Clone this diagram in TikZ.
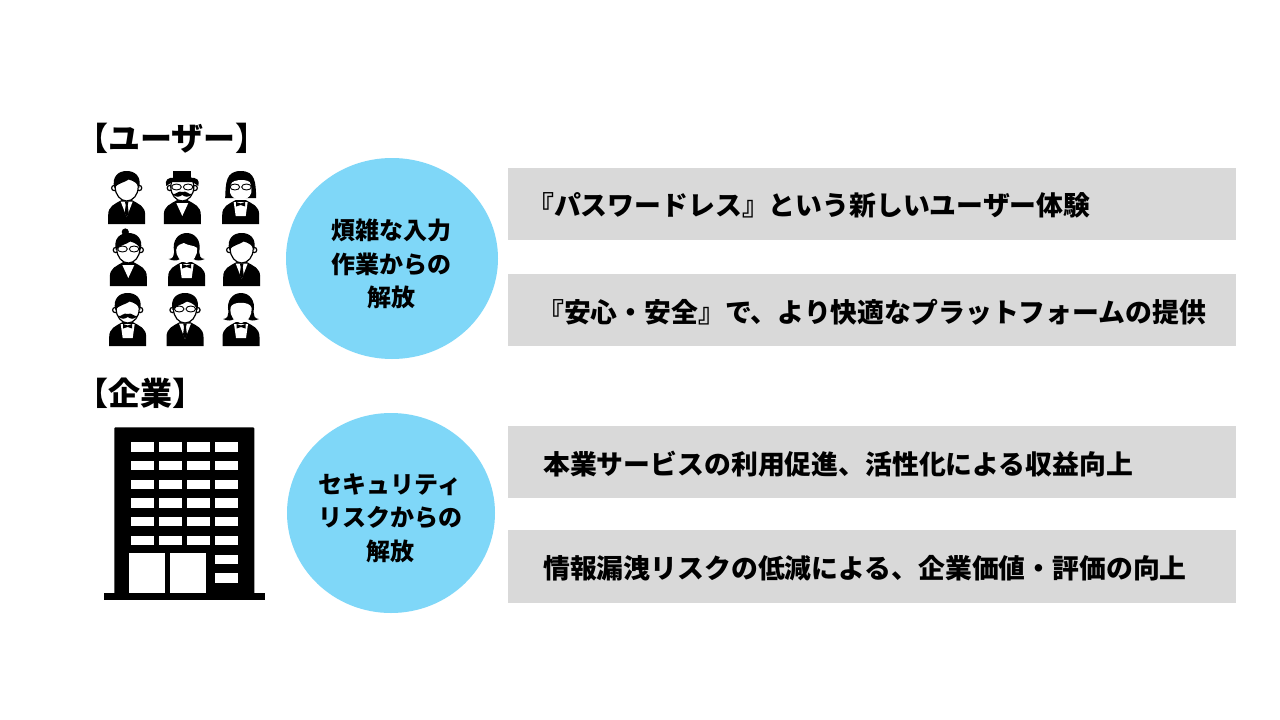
\documentclass[tikz,border=0pt]{standalone}
\usepackage{fontspec}
\newfontfamily\jp{Noto Sans CJK JP}
\usetikzlibrary{shapes.geometric}
\definecolor{barc}{HTML}{D9D9D9}
\definecolor{circc}{HTML}{7FD7F8}
\tikzset{
  barbox/.style={fill=barc,draw=none,minimum width=728pt,inner sep=0pt,anchor=north west},
  bartext/.style={anchor=west,inner sep=0pt,font=\jp\bfseries\fontsize{26.85}{30}\selectfont,text=black},
  headtext/.style={anchor=west,inner sep=0pt,font=\jp\bfseries\fontsize{32}{36}\selectfont,text=black},
  circbox/.style={ellipse,fill=circc,draw=none,inner sep=0pt},
  circtext/.style={align=center,inner sep=0pt,font=\jp\bfseries\fontsize{24}{33.5}\selectfont,text=black},
  win/.style={fill=white,draw=none},
}
% person parts, local px coordinates about the head centre
\newcommand{\pBody}{%
  \fill (-18.5,36) -- (-18.5,27) .. controls (-18.5,18) and (-12,16) .. (-5,12) -- (5,12) .. controls (12,16) and (18.5,18) .. (18.5,27) -- (18.5,36) -- cycle;}
\newcommand{\pHead}{%
  \filldraw[fill=white,line width=1.2pt] (-12.5,0) circle (2.6);
  \filldraw[fill=white,line width=1.2pt] (12.5,0) circle (2.6);
  \filldraw[fill=white,line width=1.2pt] (0,-1) ellipse (11.5 and 14);}
\newcommand{\pHair}{%
  \fill (-12.5,0) .. controls (-15,-12) and (-8,-17) .. (0,-17) .. controls (8,-17) and (15,-12) .. (12.5,0) .. controls (11,-4) and (8,-7) .. (2,-8.5) .. controls (-3,-5) and (-9,-5) .. cycle;}
\newcommand{\pTie}{%
  \fill[white] (-6,13.5) -- (6,13.5) -- (0,29) -- cycle;
  \fill (-1.8,13.5) -- (1.8,13.5) -- (1,17) -- (2,25) -- (0,29) -- (-2,25) -- (-1,17) -- cycle;}
\newcommand{\pV}{%
  \fill[white] (-6,15) -- (6,15) -- (0,28) -- cycle;}
\newcommand{\pBow}{%
  \fill[white] (-7,14) -- (7,14) -- (5,28) -- (-5,28) -- cycle;
  \fill (-4.5,14) -- (0,15.5) -- (4.5,14) -- (4.5,18.5) -- (0,17) -- (-4.5,18.5) -- cycle;}
\newcommand{\pGlasses}{%
  \draw[line width=.9pt] (-5.8,-1) ellipse (4.8 and 3) (5.8,-1) ellipse (4.8 and 3);}
\newcommand{\pMust}{%
  \fill (-10,6) .. controls (-6,7) and (-4,2) .. (0,4) .. controls (4,2) and (6,7) .. (10,6) .. controls (6,10) and (3,9) .. (0,7) .. controls (-3,9) and (-6,10) .. cycle;}
\newcommand{\pHat}{%
  \fill (-9,-17) rectangle (9,-9);
  \fill (-16,-2) .. controls (-18,-8) and (-14,-11) .. (-8,-10) -- (8,-10) .. controls (14,-11) and (18,-8) .. (16,-2) .. controls (13,-3) and (12,-6) .. (10,-6) -- (-10,-6) .. controls (-12,-6) and (-13,-3) .. cycle;}
\newcommand{\pBob}{%
  \fill (-15.5,10) .. controls (-15,-5) and (-15,-17) .. (0,-17) .. controls (15,-17) and (15,-5) .. (15.5,10) -- (10,10) -- (-10,10) -- cycle;
  \fill[white] (-10.5,5) .. controls (-11,-2) and (-10,-6) .. (-6,-7) .. controls (0,-9) and (6,-8) .. (9,-6) .. controls (11,-2) and (11,2) .. (10.5,5) .. controls (8,14) and (-8,14) .. cycle;}
\newcommand{\pFlip}{%
  \fill (-18,9) .. controls (-13,9) and (-13,5) .. (-12.5,2) .. controls (-15,-10) and (-8,-17) .. (0,-17) .. controls (8,-17) and (15,-10) .. (12.5,2) .. controls (13,5) and (13,9) .. (18,9) .. controls (14,11) and (9,11) .. (7,9) -- (-7,9) .. controls (-9,11) and (-14,11) .. cycle;
  \fill[white] (-10.5,0) .. controls (-10,-5) and (-6,-6) .. (-3,-7) .. controls (2,-4) and (7,-5) .. (10.5,-2) .. controls (11,5) and (7,12) .. (0,13) .. controls (-7,12) and (-11,5) .. cycle;}
\newcommand{\pBun}{%
  \fill (-3,-18) circle (3.6);}
\begin{document}
\begin{tikzpicture}[x=1pt,y=-1pt]
\useasboundingbox (0,0) rectangle (1280,720);
\fill[white] (0,0) rectangle (1280,720);

% headings
\node[headtext] (huser) at (76,138) {【ユーザー】};
\node[headtext] (hcorp) at (76,393) {【企業】};

% circles
\node[circbox,minimum width=212pt,minimum height=201pt] (c1) at (392,258.5) {};
\node[circbox,minimum width=208pt,minimum height=200pt] (c2) at (391,513) {};
\node[circtext] (t1) at (391,264) {煩雑な入力\\作業からの\\解放};
\node[circtext] (t2) at (390,518) {セキュリティ\\リスクからの\\解放};

% bars
\node[barbox,minimum height=72pt] (b1) at (508,168) {};
\node[barbox,minimum height=72pt] (b2) at (508,274) {};
\node[barbox,minimum height=72pt] (b3) at (508,426) {};
\node[barbox,minimum height=73pt] (b4) at (508,530) {};
\node[bartext] (bt1) at (527,205) {『パスワードレス』という新しいユーザー体験};
\node[bartext] (bt2) at (537,312) {『安心・安全』で、より快適なプラットフォームの提供};
\node[bartext] (bt3) at (543,464) {本業サービスの利用促進、活性化による収益向上};
\node[bartext] (bt4) at (543,568) {情報漏洩リスクの低減による、企業価値・評価の向上};

% people
\begin{scope}[shift={(126.7,188)}]\pBody\pTie\pHead\pHair\end{scope}
\begin{scope}[shift={(182.3,188)}]\pBody\pV\pHead\pHat\pGlasses\pMust\end{scope}
\begin{scope}[shift={(240.7,188)}]\pBody\pBow\pBob\pGlasses\end{scope}
\begin{scope}[shift={(128.3,250)}]\pBody\pV\pHead\pHair\pBun\pGlasses\end{scope}
\begin{scope}[shift={(186.7,250)}]\pBody\pBow\pFlip\end{scope}
\begin{scope}[shift={(241.7,250)}]\pBody\pTie\pHead\pHair\end{scope}
\begin{scope}[shift={(127.7,310)}]\pBody\pBow\pHead\pHair\pMust\end{scope}
\begin{scope}[shift={(185,310)}]\pBody\pTie\pHead\pHair\pGlasses\end{scope}
\begin{scope}[shift={(241,310)}]\pBody\pBow\pFlip\fill[white] (-10.5,-2) .. controls (-10,-9) and (10,-9) .. (10.5,-2) .. controls (11,5) and (7,12) .. (0,13) .. controls (-7,12) and (-11,5) .. cycle;\end{scope}

% building
\fill[rounded corners=1pt] (114.3,427.3) rectangle (254.3,594);
\fill (104,592.7) rectangle (265,600);
\foreach \wx in {130.7,159,187.3,215.3}
  \foreach \wy in {442.3,461,479.6,498.3,517,535.6}
    \fill[win] (\wx,\wy) rectangle ++(22.8,9.3);
\fill[win] (128.7,553.3) rectangle (165,593);
\fill[win] (169.7,553.3) rectangle (206,593);
\fill[win] (215.3,554.7) rectangle (238,564.3);
\fill[win] (215.3,573.3) rectangle (238,582.7);
\end{tikzpicture}
\end{document}
